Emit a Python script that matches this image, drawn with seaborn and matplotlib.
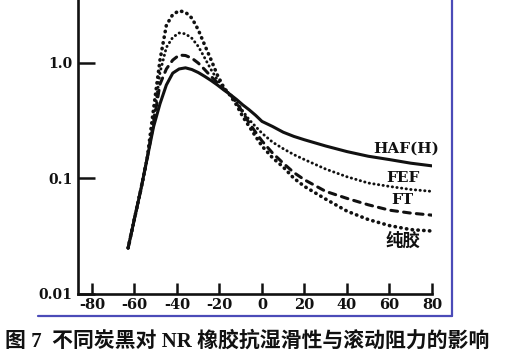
import numpy as np
import pandas as pd
import seaborn as sns
import matplotlib.pyplot as plt
from matplotlib.lines import Line2D

# temperature (°C)
temp = [-63, -60, -57, -54, -51, -48, -45, -42, -39, -36, -33, -30, -27, -24, -21,
        -18, -15, -12, -9, -6, -3, 0, 5, 10, 15, 20, 30, 40, 50, 60, 70, 80]

# tan delta
haf = [0.025, 0.045, 0.08, 0.15, 0.28, 0.44, 0.64, 0.81, 0.88, 0.90, 0.87, 0.82, 0.76, 0.70, 0.64,
       0.58, 0.53, 0.48, 0.43, 0.39, 0.35, 0.31, 0.28, 0.25, 0.23, 0.215, 0.19, 0.17, 0.155, 0.145, 0.135, 0.128]
fef = [0.025, 0.045, 0.08, 0.15, 0.31, 0.82, 1.35, 1.65, 1.80, 1.77, 1.62, 1.38, 1.10, 0.87, 0.71,
       0.60, 0.53, 0.46, 0.38, 0.32, 0.28, 0.245, 0.205, 0.18, 0.16, 0.145, 0.12, 0.103, 0.091, 0.085, 0.08, 0.077]
ft = [0.025, 0.045, 0.08, 0.15, 0.30, 0.65, 0.88, 1.05, 1.16, 1.15, 1.09, 0.99, 0.87, 0.76, 0.67,
       0.59, 0.53, 0.45, 0.37, 0.30, 0.25, 0.21, 0.165, 0.135, 0.112, 0.097, 0.077, 0.067, 0.059, 0.053, 0.05, 0.048]
gum = [0.025, 0.045, 0.08, 0.15, 0.40, 1.05, 2.10, 2.60, 2.80, 2.72, 2.42, 1.92, 1.42, 1.06, 0.78,
       0.61, 0.52, 0.43, 0.34, 0.28, 0.23, 0.19, 0.15, 0.125, 0.10, 0.085, 0.066, 0.052, 0.044, 0.039, 0.036, 0.035]

series_names = ['HAF(H)', 'FEF', 'FT', '纯胶']
series_vals = [haf, fef, ft, gum]
label_pos = [(68, 0.179), (66.5, 0.100), (66, 0.065), (66.5, 0.0285)]
label_size = [11, 11, 11, 12.5]

xticks = [-80, -60, -40, -20, 0, 20, 40, 60, 80]
yticks = [0.01, 0.1, 1.0]
ytick_labels = ['0.01', '0.1', '1.0']

caption = '图 7  不同炭黑对 NR 橡胶抗湿滑性与滚动阻力的影响'

sns.set_theme(style='ticks')
plt.rcParams['font.family'] = ['DejaVu Serif', 'Noto Sans CJK SC']
plt.rcParams['axes.unicode_minus'] = False
plt.rcParams['lines.dash_capstyle'] = 'round'

df = pd.DataFrame({
    'temp': temp * 4,
    'tan': sum(series_vals, []),
    'kind': [n for n in series_names for _ in temp],
})

fig = plt.figure(figsize=(5.07, 3.58), dpi=100)
ax = fig.add_axes([0.1538, 0.1788, 0.6982, 0.8212])

styles = {
    'HAF(H)': dict(linestyle='-', lw=2.2),
    'FEF': dict(linestyle=(0, (0.1, 1.5)), lw=2.1),
    'FT': dict(linestyle=(0, (2.2, 2.0)), lw=2.2),
    '纯胶': dict(linestyle=(0, (0.1, 1.5)), lw=2.6),
}
for name in series_names:
    sub = df[df['kind'] == name]
    sns.lineplot(data=sub, x='temp', y='tan', ax=ax, color='#111111',
                 estimator=None, **styles[name])

ax.set_yscale('log')
ax.set_xlim(-86.6, 80)
ax.set_ylim(0.01, 3.47)
ax.set_xticks(xticks)
ax.set_xticklabels([str(t) for t in xticks], fontweight='bold', fontsize=10.5)
ax.set_yticks(yticks)
ax.set_yticklabels(ytick_labels, fontweight='bold', fontsize=10)
ax.minorticks_off()
ax.set_xlabel('')
ax.set_ylabel('')

ax.tick_params(axis='x', direction='in', length=8, width=1.8, pad=3, colors='#111111')
ax.tick_params(axis='y', direction='in', length=12, width=1.8, pad=4, colors='#111111')
for s in ['top', 'right']:
    ax.spines[s].set_visible(False)
for s in ['left', 'bottom']:
    ax.spines[s].set_linewidth(1.9)
    ax.spines[s].set_color('#111111')

for name, (tx, ty), fs in zip(series_names, label_pos, label_size):
    ax.text(tx, ty, name, ha='center', va='center', fontsize=fs, fontweight='bold',
            color='#111111')

# blue frame pieces from the page
fig.add_artist(Line2D([38 / 507, 452 / 507], [1 - 316 / 358, 1 - 316 / 358],
                      transform=fig.transFigure, color='#4b4bb8', lw=1.6))
fig.add_artist(Line2D([452 / 507, 452 / 507], [1 - 316 / 358, 1.0],
                      transform=fig.transFigure, color='#4b4bb8', lw=1.6))

fig.text(5 / 507, 1 - 341 / 358, caption, ha='left', va='center', fontsize=15,
         fontweight='bold', family=['Liberation Serif', 'Noto Sans CJK SC'], color='#111111')

fig.savefig('out.png', dpi=100)
